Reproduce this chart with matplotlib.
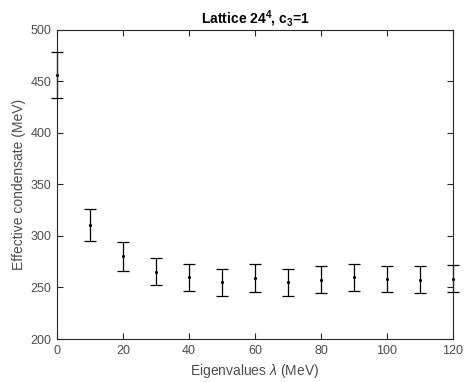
import numpy as np
import matplotlib
matplotlib.use('Agg')
import matplotlib.pyplot as plt

plt.rcParams['font.family'] = ['Liberation Sans', 'DejaVu Sans']
plt.rcParams['mathtext.fontset'] = 'custom'
plt.rcParams['mathtext.rm'] = 'Liberation Sans'
plt.rcParams['mathtext.bf'] = 'Liberation Sans:bold'
plt.rcParams['mathtext.it'] = 'Liberation Sans:italic'

# eigenvalue bins (MeV) and effective condensate (MeV)
eigen = [0, 10, 20, 30, 40, 50, 60, 70, 80, 90, 100, 110, 120]
condensate = [456, 310.4, 280.3, 265.3, 260.4, 255.2, 259.4, 255.2, 257.2, 260.4, 258.4, 257.2, 258.1]
upper = [478.3, 325.9, 294.2, 278.4, 273.1, 267.6, 272.5, 267.6, 270.6, 273.1, 271.2, 270.6, 271.6]
lower = [433.5, 295.2, 266.0, 252.2, 247.0, 241.8, 246.0, 241.8, 244.7, 247.0, 245.4, 244.7, 245.4]

condensate = np.array(condensate)
err = [condensate - np.array(lower), np.array(upper) - condensate]

fig = plt.figure(figsize=(4.7, 3.82), dpi=100)
ax = fig.add_axes([57 / 470, 1 - 339 / 382, 396 / 470, 309 / 382])

ax.errorbar(eigen, condensate, yerr=err, fmt='.', color='black', markersize=2.5,
            ecolor='black', elinewidth=0.9, capsize=4, capthick=0.9, clip_on=False)

ax.set_xlim(0, 120)
ax.set_ylim(200, 500)
ax.set_xticks(np.arange(0, 121, 20))
ax.set_yticks(np.arange(200, 501, 50))

grey = '#262626'
for s in ax.spines.values():
    s.set_color(grey)
    s.set_linewidth(0.8)
ax.tick_params(direction='in', top=True, right=True, length=4, width=0.8,
               colors=grey, labelcolor='#4d4d4d', labelsize=9, pad=4)

ax.set_xlabel(r'Eigenvalues $\lambda$ (MeV)', fontsize=10, color='#4d4d4d', labelpad=4)
ax.set_ylabel('Effective condensate (MeV)', fontsize=10, color='#4d4d4d', labelpad=3)
ax.set_title(r'Lattice 24$^\mathbf{4}$, c$_\mathbf{3}$=1', fontsize=10, fontweight='bold', pad=5)

fig.savefig('out.png', dpi=100)
